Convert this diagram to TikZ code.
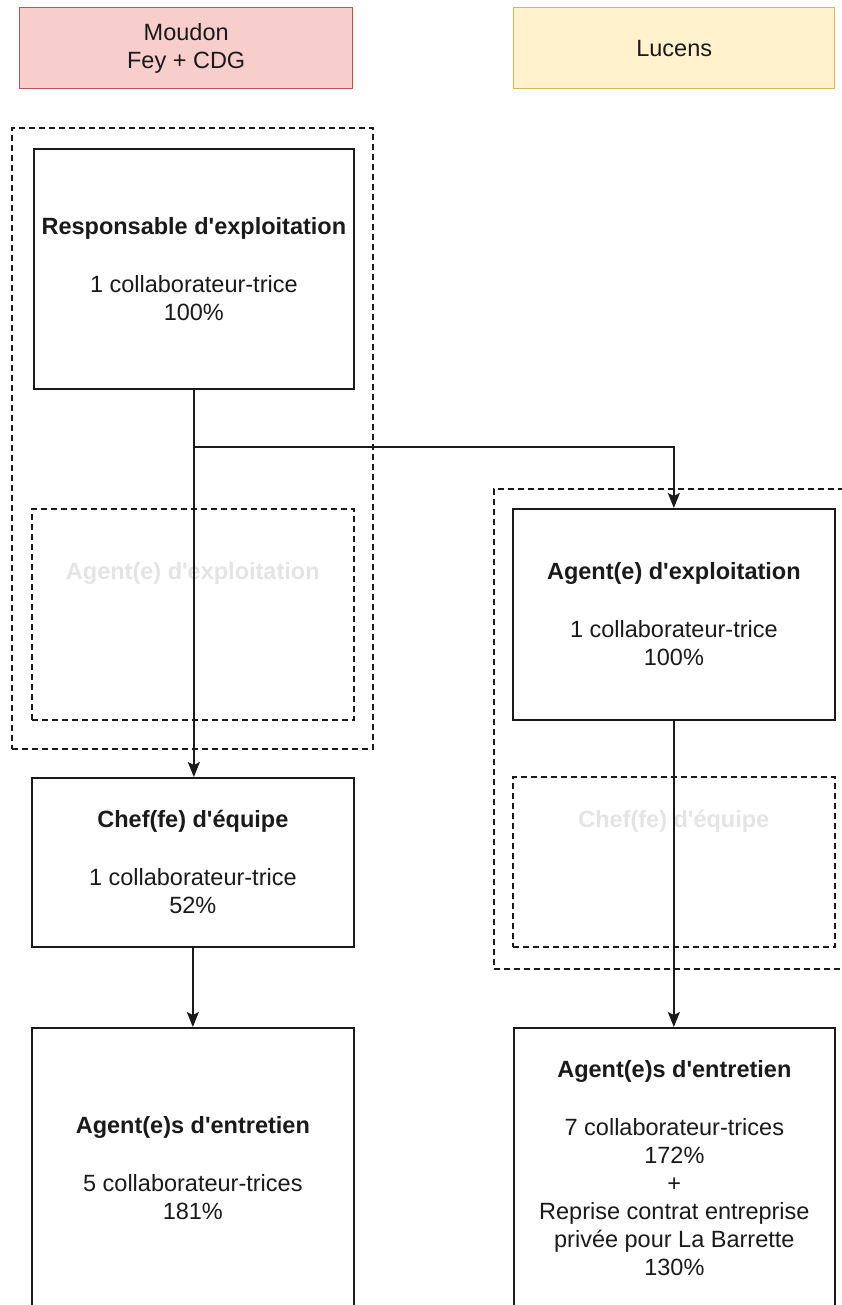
\documentclass[tikz,border=0pt]{standalone}
\usepackage{fontspec}
\setmainfont{Liberation Sans}[Ligatures=TeXOff]
\usetikzlibrary{arrows.meta}
\definecolor{redfill}{HTML}{F8CECC}
\definecolor{redline}{HTML}{B85450}
\definecolor{yelfill}{HTML}{FFF2CC}
\definecolor{yelline}{HTML}{D6B656}
\definecolor{faded}{HTML}{E4E4E4}
\definecolor{ink}{HTML}{1A1A1A}
\tikzset{
  base/.style={rectangle, anchor=north west, inner sep=0pt, align=center,
    font=\fontsize{23.5}{28}\selectfont, text=ink},
  solidbox/.style={base, draw=ink, line width=1.7pt, fill=white},
  dashbox/.style={base, draw=ink, line width=1.6pt, dash pattern=on 6pt off 4pt},
  header/.style={base, line width=1.4pt},
  conn/.style={draw=ink, line width=1.6pt},
  arr/.style={conn, -{Stealth[length=15pt, width=12pt, inset=3pt]}},
}
\begin{document}
\begin{tikzpicture}[x=1pt, y=-1pt]
\useasboundingbox (0,0) rectangle (842,1305);
\clip (0,0) rectangle (842,1305);
\fill[white] (0,0) rectangle (842,1305);
% headers
\node[header, draw=redline, fill=redfill, minimum width=333pt, minimum height=81pt] (moudon) at (19,7) {Moudon\\Fey + CDG};
\node[header, draw=yelline, fill=yelfill, minimum width=321pt, minimum height=81pt] (lucens) at (513,7) {Lucens};
% group containers
\node[dashbox, minimum width=361pt, minimum height=621pt] (grpL) at (11,127) {};
\node[dashbox, minimum width=360pt, minimum height=480pt] (grpR) at (493,488) {};
% left column
\node[solidbox, minimum width=320pt, minimum height=240pt] (resp) at (33,148)
  {\textbf{Responsable d'exploitation}\\[30pt]1 collaborateur-trice\\100\%};
\node[dashbox, minimum width=322pt, minimum height=211pt, text=faded] (agLf) at (31,508)
  {\textbf{Agent(e) d'exploitation}\\[30pt]\phantom{1}\\\phantom{1}};
\node[solidbox, minimum width=322pt, minimum height=169pt] (chefL) at (31,777)
  {\textbf{Chef(fe) d'équipe}\\[30pt]1 collaborateur-trice\\52\%};
\node[solidbox, minimum width=322pt, minimum height=280pt] (entL) at (31,1027)
  {\textbf{Agent(e)s d'entretien}\\[30pt]5 collaborateur-trices\\181\%};
% right column
\node[solidbox, minimum width=322pt, minimum height=211pt] (agR) at (512,508)
  {\textbf{Agent(e) d'exploitation}\\[30pt]1 collaborateur-trice\\100\%};
\node[dashbox, minimum width=322pt, minimum height=170pt, text=faded] (chefRf) at (512,776)
  {\textbf{Chef(fe) d'équipe}\\[30pt]\phantom{1}\\\phantom{1}};
\node[solidbox, minimum width=321pt, minimum height=280pt] (entR) at (513,1027)
  {\textbf{Agent(e)s d'entretien}\\[30pt]7 collaborateur-trices\\172\%\\+\\Reprise contrat entreprise\\privée pour La Barrette\\130\%};
% connectors
\coordinate (branch) at (resp.south |- 0,447);
\draw[arr] (resp.south) -- (chefL.north -| resp.south);
\draw[arr] (branch) -| (agR.north);
\draw[arr] (agR.south) -- (entR.north -| agR.south);
\draw[arr] (chefL.south) -- (entL.north -| chefL.south);
\end{tikzpicture}
\end{document}
